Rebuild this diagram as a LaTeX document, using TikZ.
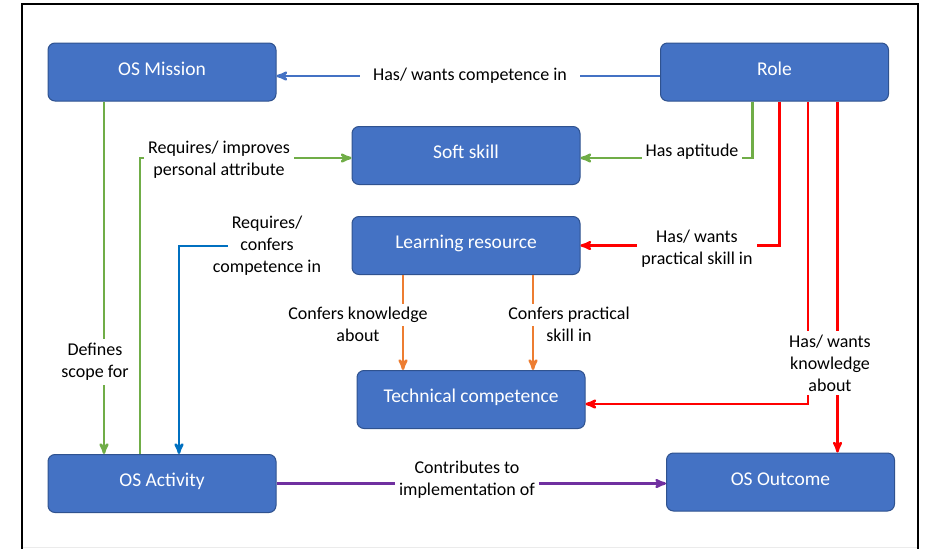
\documentclass[tikz,border=0pt]{standalone}
\usepackage{fontspec}
\setmainfont{Carlito}
\usetikzlibrary{arrows}

\definecolor{boxfill}{HTML}{4472C4}
\definecolor{boxline}{HTML}{2F528F}
\definecolor{compblue}{HTML}{4472C4}
\definecolor{skillgreen}{HTML}{70AD47}
\definecolor{actblue}{HTML}{0070C0}
\definecolor{rolered}{HTML}{FF0000}
\definecolor{resorange}{HTML}{ED7D31}
\definecolor{outpurple}{HTML}{7030A0}

\begin{document}
\begin{tikzpicture}[x=1pt,y=-1pt,>=stealth',line width=2.5pt,
    main node/.style={rectangle,rounded corners=7pt,draw=boxline,line width=1pt,
      fill=boxfill,text=white,minimum width=228pt,minimum height=58pt,
      text height=13pt,text depth=7pt,
      font=\fontsize{19.5}{23}\selectfont},
    rel node/.style={fill=white,align=center,inner sep=4pt,
      font=\fontsize{18}{22}\selectfont}]

\useasboundingbox (0,0) rectangle (930,549);
% frame
\draw[line width=2.5pt] (22,549) -- (22,4) -- (918,4) -- (918,549);
\draw[black!8,line width=1pt] (23,547) -- (917,547);

% concepts
\node[main node] (mission) at (162,72) {OS Mission};
\node[main node] (role) at (774.5,72) {Role};
\node[main node] (soft) at (466,155.5) {Soft skill};
\node[main node] (learn) at (466,245.5) {Learning resource};
\node[main node] (tech) at (471,399.5) {Technical competence};
\node[main node] (act) at (162,483.5) {OS Activity};
\node[main node] (outcome) at (780.5,482) {OS Outcome};

% relations
\coordinate (r4) at ([xshift=63pt]role.south);
\coordinate (k1) at ([xshift=-63pt]learn.south);
\coordinate (k2) at ([xshift=67pt]learn.south);

\draw[->,compblue] ([yshift=-4pt]role.west) -- ([yshift=-4pt]mission.east);
\draw[->,skillgreen] ([xshift=-58pt]mission.south) -- ([xshift=-58pt]act.north);
\draw[->,skillgreen] ([xshift=-22pt]act.north) |- ([yshift=-2.5pt]soft.west);
\draw[->,skillgreen] ([xshift=-22pt]role.south) |- ([yshift=-2.5pt]soft.east);
\draw[->,rolered] ([xshift=5pt]role.south) |- (learn.east);
\draw[->,rolered] ([xshift=33.5pt]role.south) |- ([yshift=-4.5pt]tech.east);
\draw[->,rolered] (r4) -- (r4 |- outcome.north);
\draw[->,resorange] (k1) -- (k1 |- tech.north);
\draw[->,resorange] (k2) -- (k2 |- tech.north);
\draw[->,outpurple] (act.east) -- (act.east -| outcome.west);

% labels
\node[rel node,inner xsep=13pt] (lcomp) at (470,76) {Has/ wants competence in};
\node[rel node] (lattr) at (219,160) {Requires/ improves\\personal attribute};
\node[rel node,fill=none] (lcompin) at (267,246) {Requires/\\confers\\competence in};
\node[rel node] (lscope) at (95,362) {Defines\\scope for};
\node[rel node] (lapt) at (692,152) {Has aptitude};
\node[rel node] (lpract) at (697,249) {Has/ wants\\practical skill in};
\node[rel node] (lknow) at (830,363) {Has/ wants\\knowledge\\about};
\node[rel node,fill=none] (lconfk) at (358,323) {\colorbox{white}{Confers knowledge}\\about};
\node[rel node,fill=none] (lconfp) at (569,323) {\colorbox{white}{Confers practical}\\skill in};
\node[rel node] (lcontrib) at (467,480) {Contributes to\\implementation of};

\draw[->,actblue] ([xshift=20pt]lcompin.west) -| ([xshift=17pt]act.north);

\end{tikzpicture}
\end{document}
